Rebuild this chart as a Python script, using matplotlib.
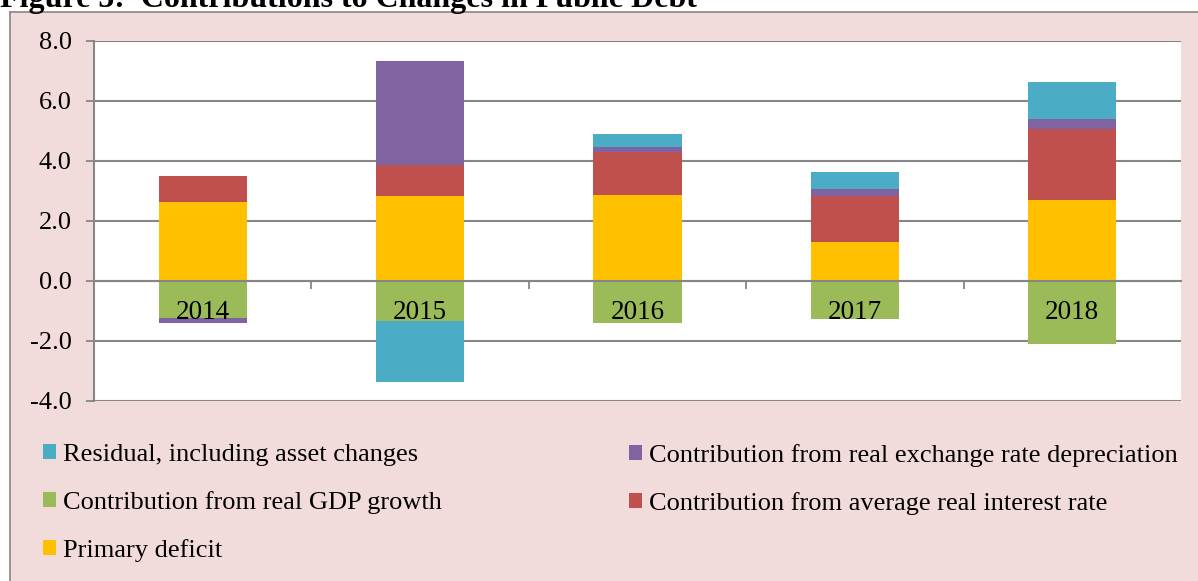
import numpy as np
import matplotlib.pyplot as plt
from matplotlib.patches import Patch
from matplotlib.lines import Line2D

plt.rcParams['font.family'] = ['Liberation Serif', 'DejaVu Serif']

# Data
years = ['2014', '2015', '2016', '2017', '2018']
primary_deficit = [2.63, 2.83, 2.84, 1.30, 2.68]
gdp_growth = [-1.25, -1.34, -1.41, -1.29, -2.11]
interest_rate = [0.87, 1.03, 1.44, 1.51, 2.38]
exchange_rate = [-0.16, 3.47, 0.16, 0.23, 0.34]
residual = [0.0, -2.04, 0.46, 0.59, 1.23]

labels = ['Primary deficit',
          'Contribution from real GDP growth',
          'Contribution from average real interest rate',
          'Contribution from real exchange rate depreciation',
          'Residual, including asset changes']
colors = ['#FFC000', '#9BBB59', '#C0504D', '#8064A2', '#4BACC6']
series = [primary_deficit, gdp_growth, interest_rate, exchange_rate, residual]

W, H = 1198, 581
fig = plt.figure(figsize=(W / 100, H / 100), dpi=100)
fig.patch.set_facecolor('white')

# pink chart frame
grey = '#868686'
fig.patches.append(plt.Rectangle((10 / W, 0), 1.0, 1 - 12 / H, transform=fig.transFigure,
                                 facecolor='#F2DCDB', edgecolor='none', zorder=-2))
fig.lines.append(Line2D([10 / W, 10 / W], [0, 1 - 12 / H], transform=fig.transFigure,
                        color=grey, lw=1.2, zorder=-1))
fig.lines.append(Line2D([10 / W, 1], [1 - 12 / H, 1 - 12 / H], transform=fig.transFigure,
                        color=grey, lw=1.2, zorder=-1))

# title is cut off at the top edge, as in the source
fig.text(0, 1 - 7 / H, 'Figure 5:  Contributions to Changes in Public Debt', fontsize=23,
         fontweight='bold', va='baseline', ha='left')

ax = fig.add_axes([94 / W, 1 - 400.5 / H, (1181 - 94) / W, (400.5 - 40.7) / H])
ax.set_facecolor('white')

x = np.arange(len(years))
pos_bottom = np.zeros(len(years))
neg_bottom = np.zeros(len(years))
for vals, col, lab in zip(series, colors, labels):
    vals = np.array(vals)
    bottom = np.where(vals >= 0, pos_bottom, neg_bottom)
    ax.bar(x, vals, bottom=bottom, width=0.405, color=col, edgecolor='none', label=lab, zorder=2)
    pos_bottom += np.where(vals >= 0, vals, 0)
    neg_bottom += np.where(vals < 0, vals, 0)

ax.set_xlim(-0.5, len(years) - 0.5)
ax.set_ylim(-4, 8)
ax.set_yticks(np.arange(-4, 8.1, 2))
ax.set_yticklabels([f'{v:.1f}' for v in np.arange(-4, 8.1, 2)])
ax.yaxis.grid(True, color=grey, lw=1.5, zorder=1)
ax.set_axisbelow(True)

for s in ['top', 'right']:
    ax.spines[s].set_visible(False)
ax.spines['left'].set_color(grey)
ax.spines['left'].set_linewidth(1.5)
ax.spines['bottom'].set_position(('data', 0))
ax.spines['bottom'].set_color(grey)
ax.spines['bottom'].set_linewidth(1.5)
ax.spines['bottom'].set_zorder(3)

ax.set_xticks(x[:-1] + 0.5)
ax.set_xticklabels([])
ax.tick_params(axis='x', direction='out', length=6, width=1.3, color=grey)
ax.tick_params(axis='y', direction='out', length=6, width=1.3, color=grey,
               labelsize=19, pad=10)

for xi, yr in zip(x, years):
    ax.text(xi, -1.07, yr, ha='center', va='center', fontsize=19.5, zorder=4)

# legend in two columns
handles = {lab: Patch(facecolor=col, edgecolor='none') for lab, col in zip(labels, colors)}
col1 = [labels[4], labels[1], labels[0]]
col2 = [labels[3], labels[2]]
kw = dict(frameon=False, fontsize=19, handlelength=0.5, handleheight=0.5,
          handletextpad=0.25, labelspacing=0.95, borderpad=0, borderaxespad=0)
fig.legend([handles[l] for l in col1], col1, loc='upper left',
           bbox_to_anchor=(43 / W, 1 - 444 / H), **kw)
fig.legend([handles[l] for l in col2], col2, loc='upper left',
           bbox_to_anchor=(629 / W, 1 - 444 / H), **kw)

fig.savefig('out.png', dpi=100)
